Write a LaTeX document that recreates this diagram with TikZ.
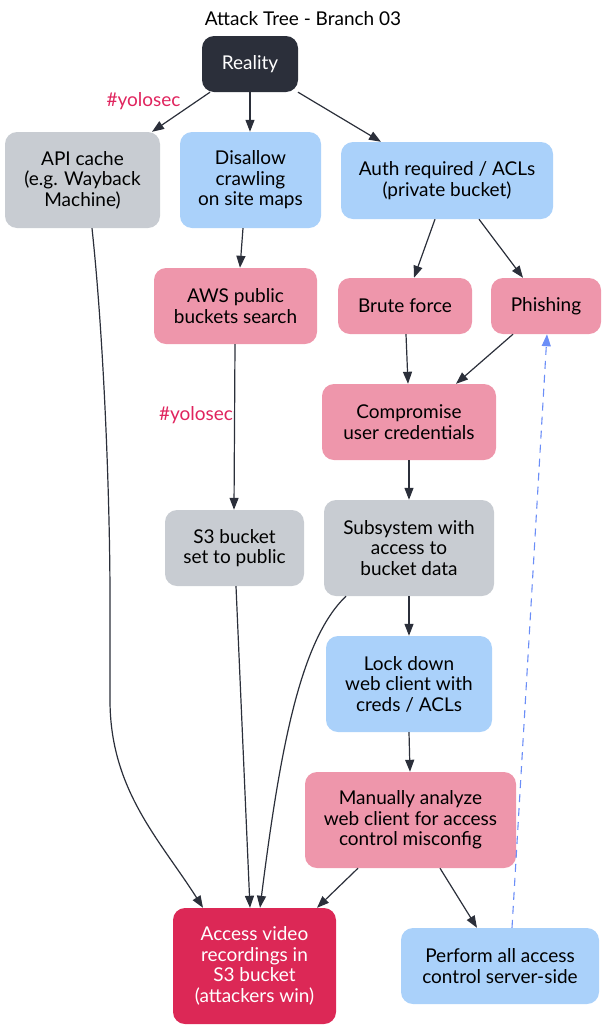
\documentclass[tikz,border=0pt]{standalone}
\usepackage{fontspec}
\setmainfont{Lato}
\usetikzlibrary{arrows.meta}
\definecolor{cdark}{HTML}{2B2F3A}
\definecolor{cgray}{HTML}{C8CCD2}
\definecolor{cblue}{HTML}{AAD1FA}
\definecolor{cpink}{HTML}{EE96AB}
\definecolor{cred}{HTML}{DC2856}
\definecolor{cdash}{HTML}{6B8EF7}
\definecolor{cyolo}{HTML}{E0245E}
\begin{document}
\begin{tikzpicture}[x=1pt,y=-1pt,
  box/.style={rounded corners=12pt, align=center, inner sep=0pt,
    font=\fontsize{19}{20.5}\selectfont, text=black},
  darkbox/.style={box, fill=cdark, text=white},
  graybox/.style={box, fill=cgray},
  bluebox/.style={box, fill=cblue},
  pinkbox/.style={box, fill=cpink},
  redbox/.style={box, fill=cred, text=white},
  edge/.style={draw=cdark, line width=1.2pt, -{Triangle[length=12pt,width=9pt]}},
  dashedge/.style={draw=cdash, line width=1.1pt, dash pattern=on 8pt off 6pt, -{Triangle[length=12pt,width=9pt]}},
  yolo/.style={text=cyolo, font=\fontsize{19}{20.5}\selectfont, inner sep=0pt}]
\useasboundingbox (0,0) rectangle (607,1031);
\node[font=\fontsize{19}{20.5}\selectfont, inner sep=0pt] (title) at (303,19) {Attack Tree - Branch 03};
\node[darkbox, minimum width=96pt, minimum height=56pt] (reality) at (250,64) {Reality};
\node[graybox, minimum width=155pt, minimum height=96pt] (api) at (82.5,180) {API cache\\(e.g. Wayback\\Machine)};
\node[bluebox, minimum width=141pt, minimum height=96pt] (disallow) at (250.5,180) {Disallow\\crawling\\on site maps};
\node[bluebox, minimum width=212pt, minimum height=77pt] (auth) at (447,180.5) {Auth required / ACLs\\(private bucket)};
\node[pinkbox, minimum width=163pt, minimum height=76pt] (aws) at (235.5,306) {AWS public\\buckets search};
\node[pinkbox, minimum width=134pt, minimum height=56pt] (brute) at (405,306) {Brute force};
\node[pinkbox, minimum width=110pt, minimum height=56pt] (phish) at (546,306) {Phishing};
\node[pinkbox, minimum width=174pt, minimum height=76pt] (comp) at (409,422) {Compromise\\user credentials};
\node[graybox, minimum width=139pt, minimum height=76pt] (s3) at (234.5,548) {S3 bucket\\set to public};
\node[graybox, minimum width=170pt, minimum height=96pt] (subsys) at (409,548) {Subsystem with\\access to\\bucket data};
\node[bluebox, minimum width=166pt, minimum height=96pt] (lock) at (409,684) {Lock down\\web client with\\creds / ACLs};
\node[pinkbox, minimum width=211pt, minimum height=96pt] (manual) at (410.5,820) {Manually analyze\\web client for access\\control misconfig};
\node[redbox, minimum width=163pt, minimum height=116pt] (access) at (254.5,966) {Access video\\recordings in\\S3 bucket\\(attackers win)};
\node[bluebox, minimum width=198pt, minimum height=76pt] (perform) at (500,966) {Perform all access\\control server-side};
\node[yolo] (yolo1) at (143.5,101) {\#yolosec};
\node[yolo] (yolo2) at (196,415) {\#yolosec};
% edges
\draw[edge] ([xshift=-40pt]reality.south) -- ([xshift=69.5pt]api.north);
\draw[edge] (reality.south) -- ([xshift=-0.5pt]disallow.north);
\draw[edge] ([xshift=48pt]reality.south) -- ([xshift=-66pt]auth.north);
\draw[edge] ([xshift=-7.5pt]disallow.south) -- ([xshift=4.5pt]aws.north);
\draw[edge] ([xshift=-12pt]auth.south) -- ([xshift=9pt]brute.north);
\draw[edge] ([xshift=32pt]auth.south) -- ([xshift=-23pt]phish.north);
\draw[edge] ([xshift=1pt]brute.south) -- ([xshift=-1pt]comp.north);
\draw[edge] ([xshift=-33pt]phish.south) -- ([xshift=47pt]comp.north);
\draw[edge] ([xshift=-0.5pt]aws.south) -- ([xshift=-0.5pt]s3.north);
\draw[edge] (comp.south) -- (subsys.north);
\draw[edge] (subsys.south) -- (lock.north);
\draw[edge] (lock.south) -- ([xshift=-0.5pt]manual.north);
\draw[edge] ([xshift=9.5pt]api.south) .. controls (104,340) and (110,500) .. (110,600) -- (110,700) .. controls (110,790) and (160,840) .. ([xshift=-51.5pt]access.north);
\draw[edge] ([xshift=1.5pt]s3.south) -- ([xshift=-4.5pt]access.north);
\draw[edge] ([xshift=-63pt]subsys.south) .. controls (300,640) and (280,750) .. ([xshift=5.5pt]access.north);
\draw[edge] ([xshift=-52.5pt]manual.south) -- ([xshift=62.5pt]access.north);
\draw[edge] ([xshift=29.5pt]manual.south) -- ([xshift=-23pt]perform.north);
\draw[dashedge] ([xshift=12pt]perform.north) -- ([xshift=1pt]phish.south);
\end{tikzpicture}
\end{document}
